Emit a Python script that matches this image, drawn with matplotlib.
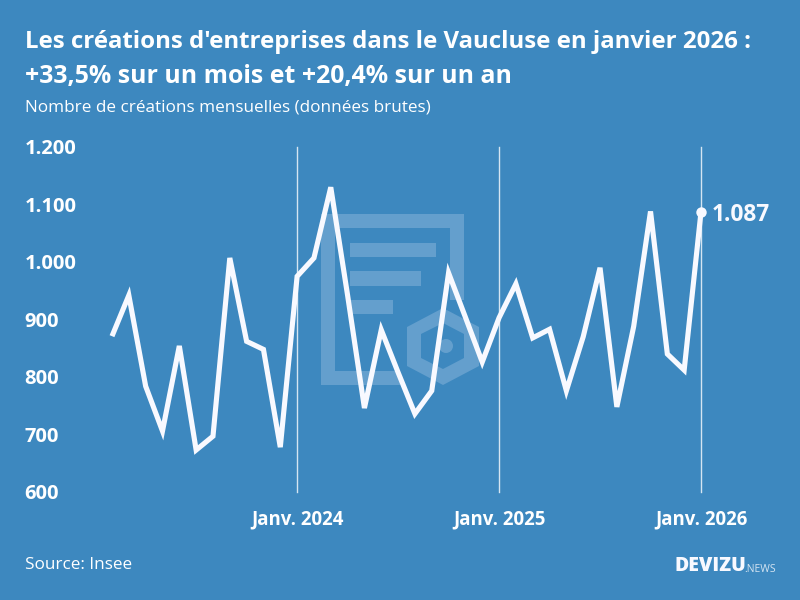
import matplotlib
matplotlib.use('Agg')
import matplotlib.pyplot as plt
from matplotlib.patches import Rectangle, Polygon, Circle

BG = '#3d88bf'
WHITE = '#f8f9ff'
WM = '#649fcd'

months = ['2023-02', '2023-03', '2023-04', '2023-05', '2023-06', '2023-07', '2023-08', '2023-09', '2023-10', '2023-11', '2023-12',
          '2024-01', '2024-02', '2024-03', '2024-04', '2024-05', '2024-06', '2024-07', '2024-08', '2024-09', '2024-10', '2024-11', '2024-12',
          '2025-01', '2025-02', '2025-03', '2025-04', '2025-05', '2025-06', '2025-07', '2025-08', '2025-09', '2025-10', '2025-11', '2025-12',
          '2026-01']
creations = [871, 942, 784, 706, 854, 673, 697, 1007, 862, 848, 678,
             975, 1007, 1130, 942, 746, 882, 808, 736, 776, 981, 904, 826,
             903, 962, 868, 883, 776, 870, 990, 748, 888, 1088, 840, 812,
             1087]
y_ticks = [600, 700, 800, 900, 1000, 1100, 1200]
y_labels = ['600', '700', '800', '900', '1.000', '1.100', '1.200']
jan_months = ['2024-01', '2025-01', '2026-01']
jan_labels = ['Janv. 2024', 'Janv. 2025', 'Janv. 2026']

plt.rcParams['font.family'] = ['Open Sans', 'DejaVu Sans']

fig = plt.figure(figsize=(8, 6), dpi=100, facecolor=BG)

# watermark, drawn in pixel coordinates of the image
bg = fig.add_axes([0, 0, 1, 1], zorder=0)
bg.set_xlim(0, 800)
bg.set_ylim(600, 0)
bg.axis('off')
for x, y, w, h in [(321, 214, 143, 14), (321, 214, 14, 171), (321, 371, 79, 14), (450, 214, 14, 86),
                   (350, 243, 86, 14), (350, 271, 71, 15), (350, 300, 43, 14)]:
    bg.add_patch(Rectangle((x, y), w, h, fc=WM, ec='none'))
bg.add_patch(Polygon([(443, 308), (479, 327), (479, 366), (443, 385), (407, 366), (407, 327)], fc=WM, ec='none'))
bg.add_patch(Polygon([(443, 323), (464, 334), (464, 358), (443, 369), (421, 358), (421, 334)], fc=BG, ec='none'))
bg.add_patch(Circle((446, 346), 7, fc=WM, ec='none'))

# axes: index 0 at x=112, last month at x=701, 1200 at y=147, 600 at y=492
ax = fig.add_axes([112 / 800, 1 - 492 / 600, (701 - 112) / 800, (492 - 147) / 600], zorder=1)
ax.patch.set_alpha(0)
xs = list(range(len(months)))
ax.set_xlim(0, len(months) - 1)
ax.set_ylim(600, 1200)
for s in ax.spines.values():
    s.set_visible(False)

jan_x = [months.index(m) for m in jan_months]
for x in jan_x:
    ax.axvline(x, color='#d5e5f2', lw=1, zorder=1, clip_on=False)

ax.plot(xs, creations, color=WHITE, lw=3.7, solid_joinstyle='miter', solid_capstyle='butt', zorder=3, clip_on=False)
ax.plot(xs[-1], creations[-1], 'o', color=WHITE, ms=7.5, mew=0, zorder=4, clip_on=False)
ax.annotate('1.087', (xs[-1], creations[-1]), xytext=(8, 0), textcoords='offset points',
            color=WHITE, fontsize=16.4, fontweight='bold', va='center_baseline', ha='left')

ax.set_yticks(y_ticks)
ax.set_yticklabels(y_labels, ha='left', color='white', fontsize=14.5, fontweight='bold')
ax.tick_params(axis='y', length=0, pad=63)
ax.set_xticks(jan_x)
ax.set_xticklabels(jan_labels, color='white', fontsize=13.4, fontweight='bold')
ax.tick_params(axis='x', length=0, pad=12.5)

fig.text(25 / 800, 1 - 42 / 600, "Les créations d'entreprises dans le Vaucluse en janvier 2026 :", color='white',
         fontsize=17.3, fontweight='bold', va='center')
fig.text(25 / 800, 1 - 77 / 600, '+33,5% sur un mois et +20,4% sur un an', color='white',
         fontsize=17.9, fontweight='bold', va='center')
fig.text(25 / 800, 1 - 107.5 / 600, 'Nombre de créations mensuelles (données brutes)', color='white', fontsize=12.3, va='center')
fig.text(25 / 800, 1 - 565 / 600, 'Source: Insee', color='white', fontsize=12.3, va='center')
fig.text(674 / 800, 1 - 566 / 600, 'DEVIZU', color=WHITE, fontsize=14, fontweight='black', va='center')
fig.text(744 / 800, 1 - 570 / 600, '.NEWS', color='#d5e5f2', fontsize=7.5, va='center')

fig.savefig('out.png', dpi=100, facecolor=BG)
